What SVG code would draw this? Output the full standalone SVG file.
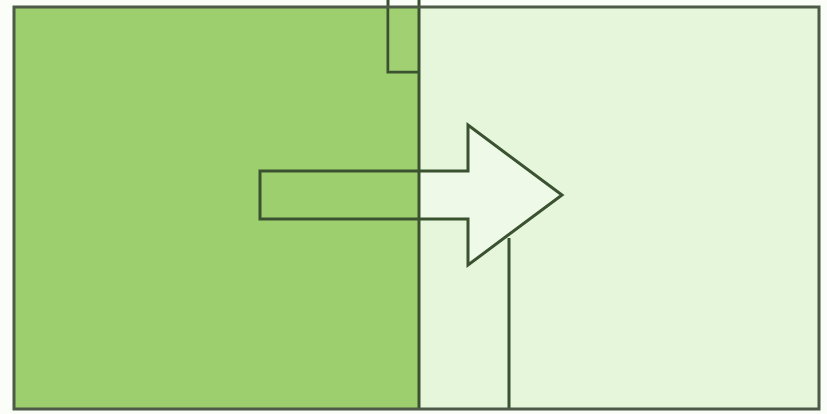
<svg xmlns="http://www.w3.org/2000/svg" width="827" height="414" viewBox="0 0 827 414">
<style>
.ln{fill:none;stroke:#3b5230;stroke-width:3;stroke-linejoin:miter}
</style>
<rect x="0" y="0" width="827" height="414" fill="#fbfdf9"/>
<g id="left-square"><rect x="14" y="7" width="405" height="402" fill="#9dcf6f"/></g>
<g id="right-square"><rect x="419" y="7" width="400" height="402" fill="#e5f6db"/></g>
<g id="top-tab"><path class="ln" d="M388 0 V72 H419" fill="none"/><rect x="389" y="7" width="29" height="64" fill="#a3d275" opacity="0.5"/></g>
<g id="arrow"><path d="M419 171 H468 V125 L562 195 L468 265 V219 H419 Z" fill="#eef9e8"/><path class="ln" d="M260 171 H468 V125 L562 195 L468 265 V219 H260 Z"/></g>
<g id="connectors"><path class="ln" d="M509 238 V409"/><path class="ln" d="M419 0 V409"/></g>
<g id="frame"><rect x="14" y="7" width="805" height="402" fill="none" stroke="#4d5a48" stroke-width="3"/></g>
</svg>
